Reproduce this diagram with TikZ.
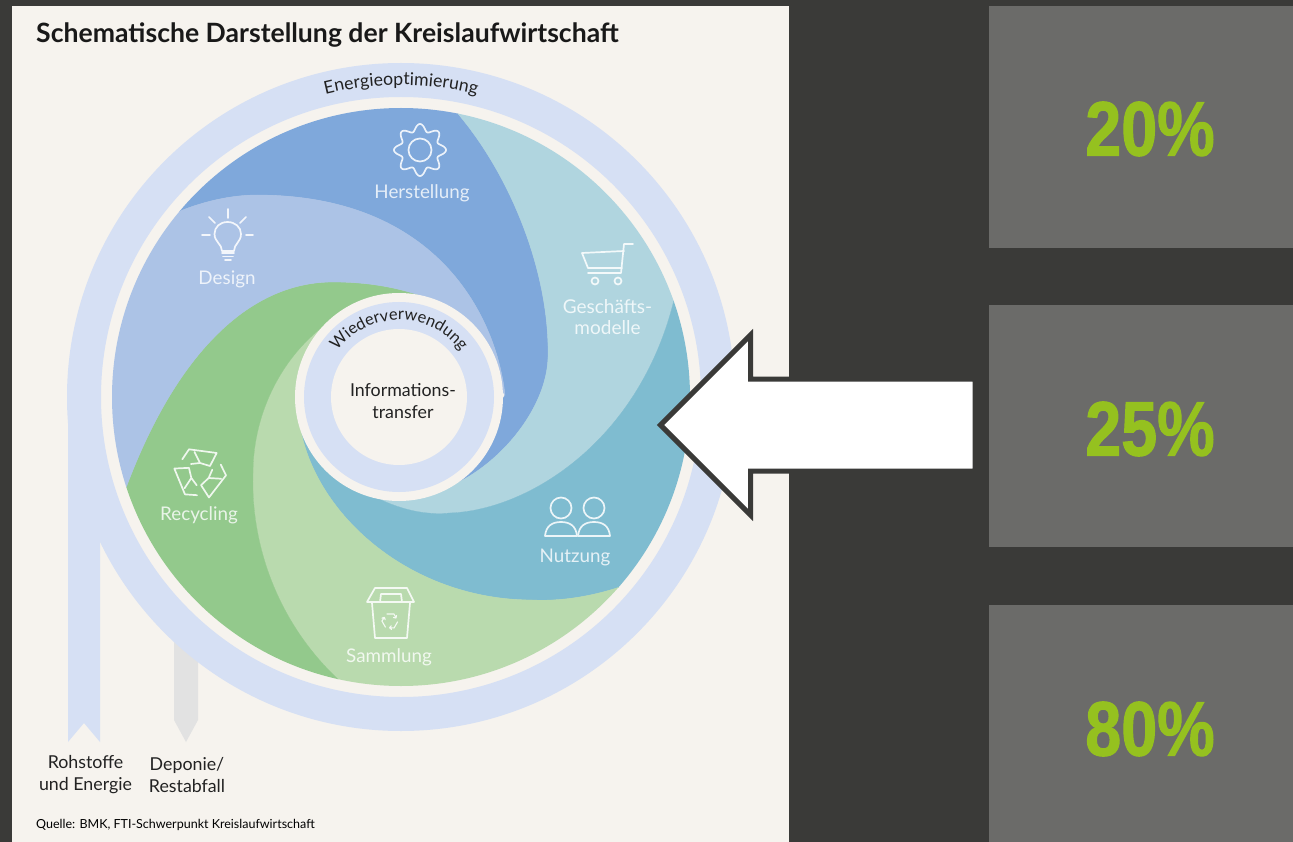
\documentclass[tikz,border=0pt]{standalone}
\usepackage{fontspec}
\setmainfont{Lato}
\newfontfamily\pctfont[BoldFeatures={FakeBold=1.5}]{Liberation Sans}
\usetikzlibrary{decorations.text}
\definecolor{darkbg}{HTML}{3A3A38}
\definecolor{panel}{HTML}{6B6B69}
\definecolor{cream}{HTML}{F6F3EE}
\definecolor{ringblue}{HTML}{D6E0F4}
\definecolor{herst}{HTML}{7FA8DB}
\definecolor{design}{HTML}{ACC3E6}
\definecolor{gesch}{HTML}{B0D5DF}
\definecolor{nutz}{HTML}{7FBCD0}
\definecolor{samm}{HTML}{B9DAAE}
\definecolor{recy}{HTML}{93C98C}
\definecolor{depo}{HTML}{E2E2E2}
\definecolor{pct}{HTML}{95C11F}
\definecolor{inktext}{HTML}{222222}
\tikzset{
  panelbox/.style={fill=panel,draw=none},
  sector/.style={line width=0.3pt,draw=#1,fill=#1},
  iconline/.style={draw=white!85!#1,line width=1.7pt,line cap=round,line join=round},
  ilabel/.style={text=white!80!#1,font=\fontsize{18.8}{21}\selectfont,align=center},
  blabel/.style={text=inktext,font=\fontsize{17.8}{22}\selectfont,align=center,inner sep=0pt},
  pctlabel/.style={text=pct,font=\pctfont\bfseries\fontsize{77}{80}\selectfont,inner sep=0pt}
}
\begin{document}
\begin{tikzpicture}[x=1pt,y=-1pt]
\useasboundingbox (0,0) rectangle (1293,842);
\fill[darkbg] (0,0) rectangle (1293,842);
\fill[cream] (12,6) rectangle (789,842);
\fill[panelbox] (989,6) rectangle (1293,248);
\fill[panelbox] (989,305) rectangle (1293,547);
\fill[panelbox] (989,605) rectangle (1293,842);
\node[pctlabel] (p1) at (1150,129) {\scalebox{0.84}[1]{20\%}};
\node[pctlabel] (p2) at (1150,429) {\scalebox{0.84}[1]{25\%}};
\node[pctlabel] (p3) at (1150,729) {\scalebox{0.84}[1]{80\%}};
% title
\node[anchor=west,inner sep=0pt,text=black!90,font=\bfseries\fontsize{26.6}{28}\selectfont] (title) at (36,35.5) {Schematische Darstellung der Kreislaufwirtschaft};
% grey arrow
\fill[depo] (174,640) -- (198,640) -- (198,720) -- (186,742) -- (174,720) -- cycle;
% ring and band
\fill[ringblue,even odd rule] (401,397) circle[radius=334pt] (401,397) circle[radius=300pt];
\fill[ringblue] (68,420) -- (100,420) -- (100,742) -- (84,723) -- (68,742) -- cycle;
% disc
\begin{scope}
\clip (401,397) circle[radius=289pt];
\filldraw[sector=herst] (505,395) .. controls (497,320) and (440,195) .. (257,195) .. controls (220,195) and (175,208) .. (135,235)
  -- (150,-50) -- (430,-50) -- (430,85) .. controls (498,145) and (550,260) .. (548,357) .. controls (547,405) and (505,460) .. (455,484) -- cycle;
\filldraw[sector=gesch] (455,484) .. controls (505,460) and (547,405) .. (548,357) .. controls (550,260) and (498,145) .. (430,85)
  -- (500,-50) -- (900,100) -- (680,270) .. controls (655,430) and (535,510) .. (450,513) .. controls (430,515) and (405,512) .. (375,497) -- cycle;
\filldraw[sector=nutz] (375,497) .. controls (405,512) and (430,515) .. (450,513) .. controls (535,510) and (655,430) .. (680,270)
  -- (900,200) -- (900,600) -- (670,565) .. controls (625,590) and (575,602) .. (533,600) .. controls (400,600) and (300,500) .. (298,405) -- cycle;
\filldraw[sector=samm] (298,405) .. controls (300,500) and (400,600) .. (533,600) .. controls (575,602) and (625,590) .. (670,565)
  -- (900,800) -- (400,1000) -- (370,705) .. controls (290,650) and (250,560) .. (253,473) .. controls (253,410) and (285,350) .. (335,318) -- cycle;
\filldraw[sector=recy] (335,318) .. controls (285,350) and (253,410) .. (253,473) .. controls (250,560) and (290,650) .. (370,705)
  -- (300,1000) -- (-100,700) -- (103,560) .. controls (152,380) and (235,282) .. (333,282) .. controls (370,282) and (405,288) .. (440,303) -- cycle;
\filldraw[sector=design] (440,303) .. controls (405,288) and (370,282) .. (333,282) .. controls (235,282) and (152,380) .. (103,560)
  -- (-100,600) -- (-100,100) -- (135,235) .. controls (175,208) and (220,195) .. (257,195) .. controls (440,195) and (497,320) .. (505,395) -- cycle;
\end{scope}
% hub
\fill[cream] (399,397) circle[radius=104pt];
\fill[ringblue] (399,397) circle[radius=95pt];
\fill[cream] (399,397) circle[radius=68pt];
% curved text
\begin{scope}[y=1pt]
\path[decorate,decoration={text along path,text align=center,text={|\fontsize{17.7}{20}\selectfont\color{inktext}|Energieoptimierung}}]
  ([shift={(125:312pt)}]401,-397) arc[start angle=125,end angle=55,radius=312pt];
\path[decorate,decoration={text along path,text align=center,text={|\fontsize{16.4}{20}\selectfont\color{inktext}|Wiederverwendung}}]
  ([shift={(165:77pt)}]399,-397) arc[start angle=165,end angle=15,radius=77pt];
\end{scope}
\node[blabel] (info) at (403,401) {Informations-\\transfer};
\node[blabel] (roh) at (85.5,775) {Rohstoffe\\und Energie};
\node[blabel] (dep) at (187,775) {Deponie/\\Restabfall};
\node[anchor=west,inner sep=0pt,text=black,font=\fontsize{12.5}{14}\selectfont] (src) at (36,824.5) {Quelle: BMK, FTI-Schwerpunkt Kreislaufwirtschaft};
% sector labels
\node[ilabel=herst] (lh) at (422,193) {Herstellung};
\node[ilabel=design] (ld) at (227,279) {Design};
\node[ilabel=gesch,font=\fontsize{19}{21}\selectfont] (lg) at (607.5,317) {Geschäfts-\\modelle};
\node[ilabel=nutz] (ln) at (575,557) {Nutzung};
\node[ilabel=samm] (ls) at (389,657) {Sammlung};
\node[ilabel=recy] (lr) at (199,515) {Recycling};
% gear
\draw[iconline=herst] plot[smooth,domain=0:360,samples=145] ({420+(22.5+3.5*cos(8*\x))*cos(\x)},{150+(22.5+3.5*cos(8*\x))*sin(\x)}) -- cycle;
\draw[iconline=herst] (420,150) circle[radius=11.5pt];
% bulb
\draw[iconline=design] (222,251) .. controls (222,244) and (214.5,242) .. (214.5,234) .. controls (214.5,227) and (220,222) .. (227.5,222) .. controls (235,222) and (241,227) .. (241,234) .. controls (241,242) and (234,244) .. (234,251) -- cycle;
\draw[iconline=design] (222,253) -- (234,253) (223,256.5) -- (233,256.5) (225,260) -- (231,260);
\draw[iconline=design] (228,209) -- (228,218) (209,217) -- (215,223) (246,217) -- (240,223) (202,235) -- (210,235) (246,235) -- (253,235);
% cart
\draw[iconline=gesch] (633,244) -- (624,244) -- (621,273) -- (588,273);
\draw[iconline=gesch] (624,251) -- (582,253) -- (588,268) -- (622,268);
\draw[iconline=gesch] (595,281) circle[radius=3.5pt] (618,281) circle[radius=3.5pt];
% people
\draw[iconline=nutz] (561,508) circle[radius=10.5pt] (594,508) circle[radius=10.5pt];
\draw[iconline=nutz] (545,536) .. controls (546,526) and (552,522) .. (561,522) .. controls (570,522) and (576,526) .. (577,536) -- cycle;
\draw[iconline=nutz] (578,536) .. controls (579,526) and (585,522) .. (594,522) .. controls (603,522) and (609,526) .. (610,536) -- cycle;
% bin
\draw[iconline=samm] (372,603) -- (375,638) -- (407,638) -- (410,603);
\draw[iconline=samm] (367,602) -- (414,602) -- (407,588) -- (375,588) -- cycle;
\draw[iconline=samm] (380,602) -- (381,594) -- (401,594) -- (402,602);
\foreach \a in {0,120,240}
  \draw[iconline=samm,line width=1.1pt,shift={(390,621)},rotate=\a] (-3,-7) -- (4,-7) -- (6,-3) (6.5,-5.5) -- (6,-3) -- (3.5,-3.5);
% recycle
\foreach \a in {0,120,240}
  \draw[iconline=recy,shift={(200,473)},rotate=\a] (-17.7,-13.7) -- (-11,-23.7) -- (16.7,-20) -- (10,-7) -- (0,-10) -- (-5.5,-21) (0,-10) -- (-9,-9) -- cycle;
% big arrow
\draw[fill=white,draw=darkbg,line width=5pt,miter limit=10] (660.5,425) -- (750.5,335) -- (750.5,379) -- (975,379) -- (975,471) -- (750.5,471) -- (750.5,515) -- cycle;
\end{tikzpicture}
\end{document}
